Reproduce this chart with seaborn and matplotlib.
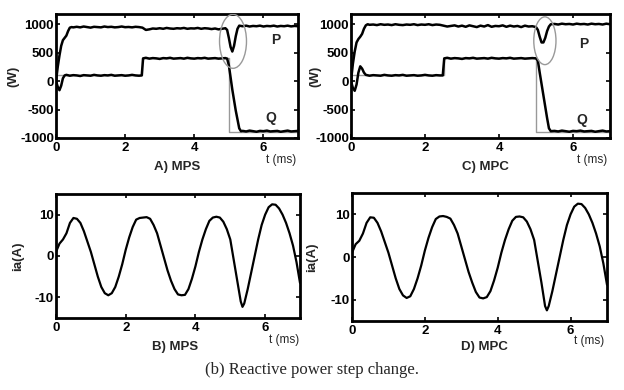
import matplotlib
matplotlib.use("Agg")
import matplotlib.pyplot as plt
from matplotlib.patches import Ellipse
import seaborn as sns
import pandas as pd

# ---------------- data ----------------
# Panel A (MPS) active power P
tPA = [0, 0.05, 0.1, 0.15, 0.2, 0.25, 0.3, 0.35, 0.4, 0.45, 0.5,
       0.6, 0.7, 0.8, 0.9, 1.0, 1.1, 1.2, 1.3, 1.4, 1.5, 1.6, 1.7, 1.8, 1.9, 2.0, 2.1, 2.2, 2.3, 2.4,
       2.5, 2.6, 2.7, 2.8, 2.9, 3.0, 3.1, 3.2, 3.3, 3.4, 3.5, 3.6, 3.7, 3.8, 3.9, 4.0, 4.1, 4.2, 4.3,
       4.4, 4.5, 4.6, 4.7, 4.8, 4.9, 4.95, 5.0, 5.05, 5.1, 5.15, 5.2, 5.25, 5.3, 5.4, 5.5, 5.6, 5.7,
       5.8, 5.9, 6.0, 6.1, 6.2, 6.3, 6.4, 6.5, 6.6, 6.7, 6.8, 6.9, 7.0]
PA = [0, 250, 450, 620, 720, 760, 800, 880, 940, 950, 945,
      955, 945, 960, 950, 940, 955, 950, 945, 960, 950, 955, 945, 950, 960, 948, 952, 945, 955, 950,
      940, 900, 910, 925, 920, 930, 920, 935, 925, 920, 930, 925, 935, 920, 928, 925, 935, 920, 930,
      925, 915, 925, 910, 920, 930, 900, 760, 600, 520, 620, 790, 920, 975, 965, 975, 960, 970, 965,
      975, 960, 970, 965, 975, 960, 970, 965, 975, 962, 970, 965]
# Panel A reactive power Q
tQA = [0, 0.05, 0.1, 0.15, 0.2, 0.25, 0.3, 0.4, 0.5, 0.6, 0.7, 0.8, 0.9, 1.0, 1.1, 1.2, 1.3, 1.4,
       1.5, 1.6, 1.7, 1.8, 1.9, 2.0, 2.1, 2.2, 2.3, 2.4, 2.48, 2.52, 2.6, 2.7, 2.8, 2.9, 3.0, 3.1,
       3.2, 3.3, 3.4, 3.5, 3.6, 3.7, 3.8, 3.9, 4.0, 4.1, 4.2, 4.3, 4.4, 4.5, 4.6, 4.7, 4.8, 4.9,
       4.95, 5.0, 5.1, 5.2, 5.3, 5.35, 5.4, 5.5, 5.6, 5.7, 5.8, 5.9, 6.0, 6.1, 6.2, 6.3, 6.4, 6.5,
       6.6, 6.7, 6.8, 6.9, 7.0]
QA = [0, -100, -160, -80, 50, 100, 110, 95, 105, 100, 90, 105, 100, 95, 110, 100, 95, 105, 100,
      110, 95, 100, 105, 95, 100, 110, 100, 95, 100, 400, 410, 395, 405, 400, 390, 405, 400, 410,
      395, 400, 405, 395, 410, 400, 395, 405, 400, 410, 395, 400, 405, 395, 400, 405,
      395, 280, -150, -520, -830, -880, -875, -885, -870, -880, -890, -875, -880, -870, -885,
      -880, -875, -890, -880, -870, -885, -880, -875]
# Panel C (MPC) active power P
tPC = [0, 0.05, 0.1, 0.15, 0.2, 0.25, 0.3, 0.35, 0.4, 0.45, 0.5,
       0.6, 0.7, 0.8, 0.9, 1.0, 1.1, 1.2, 1.3, 1.4, 1.5, 1.6, 1.7, 1.8, 1.9, 2.0, 2.1, 2.2, 2.3, 2.4,
       2.5, 2.6, 2.7, 2.8, 2.9, 3.0, 3.1, 3.2, 3.3, 3.4, 3.5, 3.6, 3.7, 3.8, 3.9, 4.0, 4.1, 4.2, 4.3,
       4.4, 4.5, 4.6, 4.7, 4.8, 4.9, 5.0, 5.05, 5.1, 5.15, 5.2, 5.25, 5.3, 5.35, 5.4, 5.5, 5.6, 5.7,
       5.8, 5.9, 6.0, 6.1, 6.2, 6.3, 6.4, 6.5, 6.6, 6.7, 6.8, 6.9, 7.0]
PC = [0, 300, 520, 680, 740, 780, 830, 920, 980, 1000, 990,
      995, 985, 1000, 990, 995, 985, 1000, 990, 985, 995, 990, 1000, 985, 995, 990, 1000, 985, 995, 990,
      975, 960, 970, 980, 960, 975, 955, 980, 965, 950, 975, 960, 985, 955, 970, 965, 980, 955, 975,
      960, 970, 950, 975, 960, 965, 950, 900, 780, 680, 680, 760, 880, 960, 1000, 1005, 995, 1010,
      1000, 1005, 995, 1010, 1000, 1005, 995, 1010, 1000, 1005, 995, 1010, 1000]
# Panel C reactive power Q
tQC = [0, 0.05, 0.1, 0.15, 0.2, 0.25, 0.3, 0.35, 0.4, 0.5, 0.6, 0.7, 0.8, 0.9, 1.0, 1.1, 1.2, 1.3,
       1.4, 1.5, 1.6, 1.7, 1.8, 1.9, 2.0, 2.1, 2.2, 2.3, 2.4, 2.48, 2.52, 2.6, 2.7, 2.8, 2.9, 3.0,
       3.1, 3.2, 3.3, 3.4, 3.5, 3.6, 3.7, 3.8, 3.9, 4.0, 4.1, 4.2, 4.3, 4.4, 4.5, 4.6, 4.7, 4.8, 4.9,
       5.0, 5.05, 5.1, 5.2, 5.3, 5.35, 5.4, 5.5, 5.6, 5.7, 5.8, 5.9, 6.0, 6.1, 6.2, 6.3, 6.4, 6.5,
       6.6, 6.7, 6.8, 6.9, 7.0]
QC = [0, -120, -170, -60, 150, 260, 220, 150, 110, 95, 105, 100, 95, 110, 100, 95, 105, 100, 110,
      95, 100, 105, 95, 100, 110, 100, 95, 105, 100, 100, 400, 410, 395, 405, 400, 390, 405, 400,
      410, 395, 400, 405, 395, 410, 400, 395, 405, 400, 410, 395, 400, 405, 395, 400, 405,
      400, 360, 150, -250, -650, -830, -880, -875, -885, -870, -880, -890, -875, -880, -870,
      -885, -880, -875, -890, -880, -870, -885, -880]
# reactive power reference (grey)
tQref = [0, 2.5, 2.5, 5.0, 5.0, 7.0]
Qref = [100, 100, 400, 400, -900, -900]

# phase current ia (both controllers)
tI = [0, 0.1, 0.2, 0.3, 0.4, 0.5, 0.6, 0.7, 0.8, 0.9, 1.0, 1.1, 1.2, 1.3, 1.4, 1.5, 1.6, 1.7, 1.8,
      1.9, 2.0, 2.1, 2.2, 2.3, 2.4, 2.5, 2.6, 2.7, 2.8, 2.9, 3.0, 3.1, 3.2, 3.3, 3.4, 3.5, 3.6, 3.7,
      3.8, 3.9, 4.0, 4.1, 4.2, 4.3, 4.4, 4.5, 4.6, 4.7, 4.8, 4.9, 5.0, 5.1, 5.2, 5.3, 5.35, 5.4,
      5.5, 5.6, 5.7, 5.8, 5.9, 6.0, 6.1, 6.2, 6.3, 6.4, 6.5, 6.6, 6.7, 6.8, 6.9, 7.0]
IB = [1, 3, 4, 5.5, 8, 9.2, 9, 8, 6, 3.5, 1, -2, -5, -7.5, -9, -9.5, -9, -7.5, -5,
      -2, 1.5, 4.5, 7, 8.8, 9.2, 9.3, 9.4, 9, 7.5, 5.5, 2.5, -0.5, -3.5, -6, -8, -9.3, -9.5, -9.4,
      -8, -5.5, -2.5, 1, 4, 6.5, 8.5, 9.3, 9.5, 9.3, 8.3, 6.5, 4, -1, -6, -11, -12.3, -11.5,
      -8, -4, 0, 4, 7.5, 10, 11.8, 12.5, 12.4, 11.5, 10, 8, 5.5, 2.5, -1.5, -6.5]
ID = [1, 3, 3.8, 5.5, 8, 9.3, 9.2, 8, 6, 3.5, 1, -2, -5, -7.5, -9, -9.6, -9.2, -7.5, -5,
      -2, 1.5, 4.5, 7, 8.9, 9.5, 9.6, 9.4, 9, 7.5, 5.5, 2.5, -0.5, -3.5, -6, -8.2, -9.5, -9.7, -9.4,
      -8, -5.5, -2.5, 1, 4, 6.5, 8.5, 9.4, 9.5, 9.3, 8.3, 6.5, 4, -1, -6, -11.5, -12.5, -11.5,
      -8, -4, 0, 4, 7.5, 10, 11.8, 12.5, 12.4, 11.5, 10, 8, 5.5, 2.5, -1.5, -6.5]

xticks = [0, 2, 4, 6]
pq_yticks = [-1000, -500, 0, 500, 1000]
i_yticks = [-10, 0, 10]

# ---------------- figure ----------------
sns.set_theme(style="ticks")
plt.rcParams['font.family'] = ['Liberation Sans', 'DejaVu Sans']
plt.rcParams['font.weight'] = 'bold'
plt.rcParams['axes.unicode_minus'] = False

fig = plt.figure(figsize=(6.24, 3.9), dpi=100)
W, H = 624, 390

def make_ax(l, r, t, b):
    return fig.add_axes([l / W, 1 - b / H, (r - l) / W, (b - t) / H])

axA = make_ax(56, 298, 14, 138)
axC = make_ax(351, 610, 14, 138)
axB = make_ax(56, 300, 194, 318)
axD = make_ax(352, 607, 193, 321)

def style(ax, yticks, ylim, ylabel, lx):
    ax.set_xlim(0, 7)
    ax.set_ylim(*ylim)
    ax.set_xticks(xticks)
    ax.set_yticks(yticks)
    ax.tick_params(direction='in', top=True, right=True, length=3, width=1.2,
                   labelsize=9.5, colors='black')
    ax.tick_params(axis='y', pad=1.5)
    ax.tick_params(axis='x', pad=3)
    for lab in ax.get_xticklabels() + ax.get_yticklabels():
        lab.set_fontweight('bold')
    for s in ax.spines.values():
        s.set_linewidth(2.0)
        s.set_color('black')
    ax.set_xlabel('')
    ax.set_ylabel(ylabel, fontsize=9.5, fontweight='bold')
    ax.yaxis.set_label_coords(lx, 0.5)

def line(ax, x, y, color='black', lw=1.8, z=3):
    sns.lineplot(x=x, y=y, ax=ax, color=color, linewidth=lw, zorder=z, estimator=None, sort=False)

# Panel A
line(axA, tQref, Qref, color='#999999', lw=1.0, z=2)
line(axA, tPA, PA)
line(axA, tQA, QA)
style(axA, pq_yticks, (-1000, 1180), '(W)', -0.15)
axA.add_patch(Ellipse((5.12, 700), 0.78, 950, angle=0, fill=False, edgecolor='#999999', lw=1.0, zorder=4))
axA.text(6.35, 720, 'P', fontsize=10, fontweight='bold', ha='center', va='center')
axA.text(6.2, -640, 'Q', fontsize=10, fontweight='bold', ha='center', va='center')

# Panel C
line(axC, tQref, Qref, color='#999999', lw=1.0, z=2)
line(axC, tPC, PC)
line(axC, tQC, QC)
style(axC, pq_yticks, (-1000, 1180), '(W)', -0.115)
axC.add_patch(Ellipse((5.24, 710), 0.6, 840, angle=0, fill=False, edgecolor='#999999', lw=1.0, zorder=4))
axC.text(6.3, 660, 'P', fontsize=10, fontweight='bold', ha='center', va='center')
axC.text(6.25, -680, 'Q', fontsize=10, fontweight='bold', ha='center', va='center')

# Panel B
line(axB, tI, IB, lw=1.6)
style(axB, i_yticks, (-15, 15), 'ia(A)', -0.13)

# Panel D
line(axD, tI, ID, lw=1.6)
style(axD, i_yticks, (-15, 15), 'ia(A)', -0.133)

# sub-captions and time labels
for ax, cap, cx, cy, tx, ty in [
        (axA, 'A) MPS', 0.50, -0.235, 0.93, -0.18),
        (axC, 'C) MPC', 0.52, -0.235, 0.93, -0.175),
        (axB, 'B) MPS', 0.49, -0.23, 0.935, -0.18),
        (axD, 'D) MPC', 0.52, -0.20, 0.93, -0.16)]:
    ax.text(cx, cy, cap, transform=ax.transAxes, ha='center', va='center',
            fontsize=9.5, fontweight='bold')
    ax.text(tx, ty, 't (ms)', transform=ax.transAxes, ha='center', va='center',
            fontsize=8.5, fontweight='normal')

fig.text(0.5, 1 - 370 / H, '(b) Reactive power step change.', ha='center', va='center',
         fontsize=12, fontweight='normal', family=['Liberation Serif', 'DejaVu Serif'])

fig.savefig('out.png', dpi=100)
